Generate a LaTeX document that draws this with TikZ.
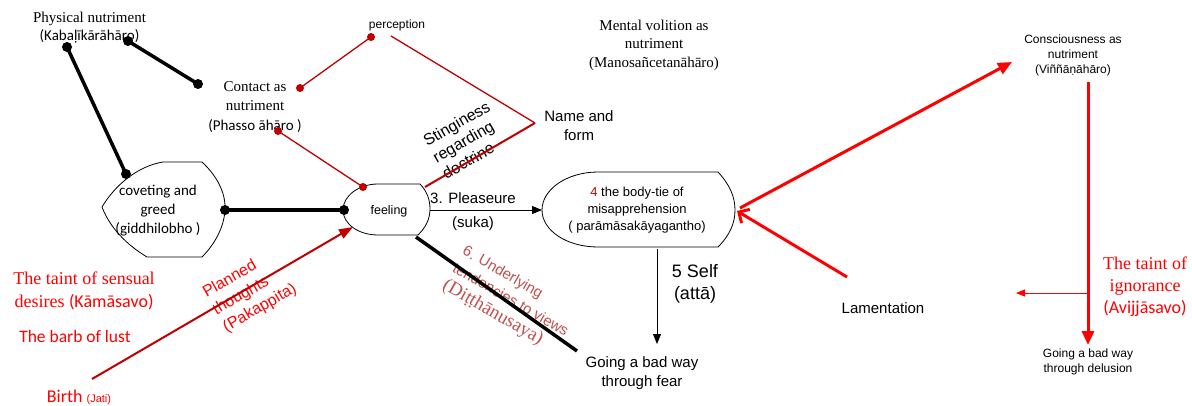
\documentclass[tikz,border=0pt]{standalone}
\usepackage{fontspec}
\setmainfont{Liberation Serif}
\newfontfamily\arial{Liberation Sans}
\newfontfamily\calib{Carlito}
\usetikzlibrary{arrows.meta}
\definecolor{dred}{HTML}{C00000}
\definecolor{bred}{HTML}{FF0000}
\definecolor{mred}{HTML}{C0504D}
\tikzset{
  txt/.style={inner sep=0pt, align=center},
  rtxt/.style={inner sep=0pt, align=left},
  shapeln/.style={line width=0.8pt, black},
  blk/.style={line width=3.5pt, black},
  rln/.style={line width=1.3pt, dred},
  thinarr/.style={line width=0.9pt, black, -{Triangle[length=10pt,width=8pt]}},
  redbig/.style={line width=3pt, bred, -{Triangle[length=14pt,width=12pt]}},
}
\begin{document}
\begin{tikzpicture}[x=1pt,y=-1pt]
\useasboundingbox (0,0) rectangle (1192,405);

% ---- shapes
\draw[shapeln] (163,162) -- (202,162) .. controls (216,175) and (226,192) .. (225,210)
  .. controls (224,228) and (214,245) .. (202,257) -- (147,257)
  .. controls (127,245) and (110,228) .. (102,207)
  .. controls (115,185) and (138,166) .. (163,162) -- cycle;
\draw[shapeln] (378,184) -- (420,184) .. controls (427,191) and (430,200) .. (430,209)
  .. controls (430,220) and (425,228) .. (418,235) -- (378,235)
  .. controls (358.7,235) and (343,224.1) .. (343,210)
  .. controls (343,195.9) and (358.7,184) .. (378,184) -- cycle;
\draw[shapeln] (598,172) -- (718,172) .. controls (730,185) and (735,197) .. (735,210)
  .. controls (735,223) and (730,235) .. (718,247) -- (598,247)
  .. controls (567,247) and (542,230.7) .. (542,210)
  .. controls (542,189.3) and (567,172) .. (598,172) -- cycle;

% ---- coordinates
\coordinate (phA) at (67,47);
\coordinate (phB) at (128,41);
\coordinate (ctA) at (198,84);
\coordinate (cgT) at (126,174);
\coordinate (cgR) at (225,210);
\coordinate (feL) at (344,210);
\coordinate (feT) at (363,187);
\coordinate (feR) at (430,210);
\coordinate (feTR) at (425,187);
\coordinate (feB) at (416,237);
\coordinate (feA) at (353,227);
\coordinate (ctR) at (300,88);
\coordinate (ctB) at (278,131);
\coordinate (pcL) at (371,37);
\coordinate (pcR) at (391,36);
\coordinate (nf) at (535,123);
\coordinate (btL) at (542,210);
\coordinate (btR) at (737,211);
\coordinate (btRt) at (740,208);
\coordinate (btB) at (657,249);
\coordinate (fearT) at (657,344);
\coordinate (fearL) at (577,351);
\coordinate (lamE) at (847,277);
\coordinate (csB) at (1012,62);
\coordinate (vT) at (1088,82);
\coordinate (vB) at (1088,345);
\coordinate (vM) at (1087,293);
\coordinate (vL) at (1016,293);
\coordinate (birthE) at (92,379);

% ---- texts
\node[txt, font=\fontsize{15}{18}\selectfont] (phys) at (89.5,28) {Physical nutriment\\\calib(Kabaḷīkārāhāro)};
\node[txt, font=\fontsize{15}{19.5}\selectfont] (contact) at (255,107) {Contact as\\nutriment\\\calib(Phasso āhāro )};
\node[txt, font=\arial\fontsize{12}{14}\selectfont] (perc) at (397,25) {perception};
\node[txt, font=\arial\fontsize{15}{19}\selectfont] (nameform) at (579,126) {Name and\\form};
\node[txt, font=\fontsize{15}{18.5}\selectfont] (mental) at (654,45) {Mental volition as\\nutriment\\(Manosañcetanāhāro)};
\node[rtxt, rotate=30, font=\arial\fontsize{16}{19}\selectfont] (sting) at (466,140) {Stinginess\\regarding\\doctrine};
\node[txt, font=\arial\fontsize{12}{15}\selectfont] (consc) at (1073,55) {Consciousness as\\nutriment\\(Viññāṇāhāro)};
\node[txt, font=\calib\fontsize{15}{19}\selectfont] (covet) at (158,211) {coveting and\\greed\\(giddhilobho )};
\node[txt, font=\arial\fontsize{12.5}{14}\selectfont] (feel) at (389,211) {feeling};
\node[txt, font=\arial\fontsize{15}{17}\selectfont] (pleas) at (473,198) {3. Pleaseure};
\node[txt, font=\arial\fontsize{15}{17}\selectfont] (suka) at (473,224) {(suka)};
\node[txt, font=\arial\fontsize{13}{17}\selectfont] (bodytie) at (637,210) {\textcolor{dred}{4} the body-tie of\\misapprehension\\( parāmāsakāyagantho)};
\node[txt, font=\arial\fontsize{18}{22}\selectfont] (self) at (695,284) {5 Self\\(attā)};
\node[txt, font=\arial\fontsize{15}{19}\selectfont] (fear) at (642,373) {Going a bad way\\through fear};
\node[rtxt, rotate=-30, text=mred, font=\arial\fontsize{15}{20}\selectfont] (under) at (510,301) {6. Underlying\\tendencies to views\\\rmfamily\fontsize{19}{23}\selectfont(Diṭṭhānusaya)};
\node[txt, font=\arial\fontsize{15}{17}\selectfont] (lam) at (883,308) {Lamentation};
\node[txt, text=bred, font=\fontsize{18}{22}\selectfont] (ignor) at (1145,287) {The taint of\\ignorance\\\calib(Avijjāsavo)};
\node[txt, font=\arial\fontsize{12}{15}\selectfont] (delus) at (1088,362) {Going a bad way\\through delusion};
\node[txt, text=bred, font=\fontsize{18}{23}\selectfont] (sensual) at (84,291) {The taint of sensual\\desires \calib(Kāmāsavo)};
\node[txt, text=bred, font=\calib\fontsize{17.5}{20}\selectfont] (barb) at (75,336) {The barb of lust};
\node[txt, text=bred, font=\calib\fontsize{18}{20}\selectfont] (birth) at (79,397) {Birth {\arial\fontsize{11}{13}\selectfont(Jati)}};
\node[rtxt, rotate=30, text=bred, font=\arial\fontsize{16}{20}\selectfont] (planned) at (250,291) {Planned\\thoughts\\(Pakappita)};

% ---- connectors
\draw[blk] (phA) -- (cgT);
\draw[blk] (phB) -- (ctA);
\draw[blk] (cgR) -- (feL);
\draw[blk] (feB) -- (fearL);
\draw[rln] (ctR) -- (pcL);
\draw[rln] (ctB) -- (feT);
\draw[rln] (pcR) -- (nf);
\draw[dred, line width=2pt] (nf) -- (feTR);
\draw[thinarr] (feR) -- (btL);
\draw[thinarr] (btB) -- (fearT);
\draw[redbig] (btRt) -- (csB);
\draw[bred, line width=3pt, -{Straight Barb[length=8pt,width=16pt,line width=3pt]}] (lamE) -- (btR);
\draw[redbig] (vT) -- (vB);
\draw[bred, line width=1pt, -{Triangle[length=9pt,width=7pt]}] (vM) -- (vL);
\draw[dred, line width=2pt, -{Triangle[length=14pt,width=10pt]}] (birthE) -- (feA);

% ---- dots
\foreach \p in {phA,phB,ctA,cgT,cgR,feL} \fill[black] (\p) circle[radius=5pt];
\foreach \p in {ctR,ctB,pcL,feT} \fill[dred] (\p) circle[radius=4pt];
\end{tikzpicture}
\end{document}
